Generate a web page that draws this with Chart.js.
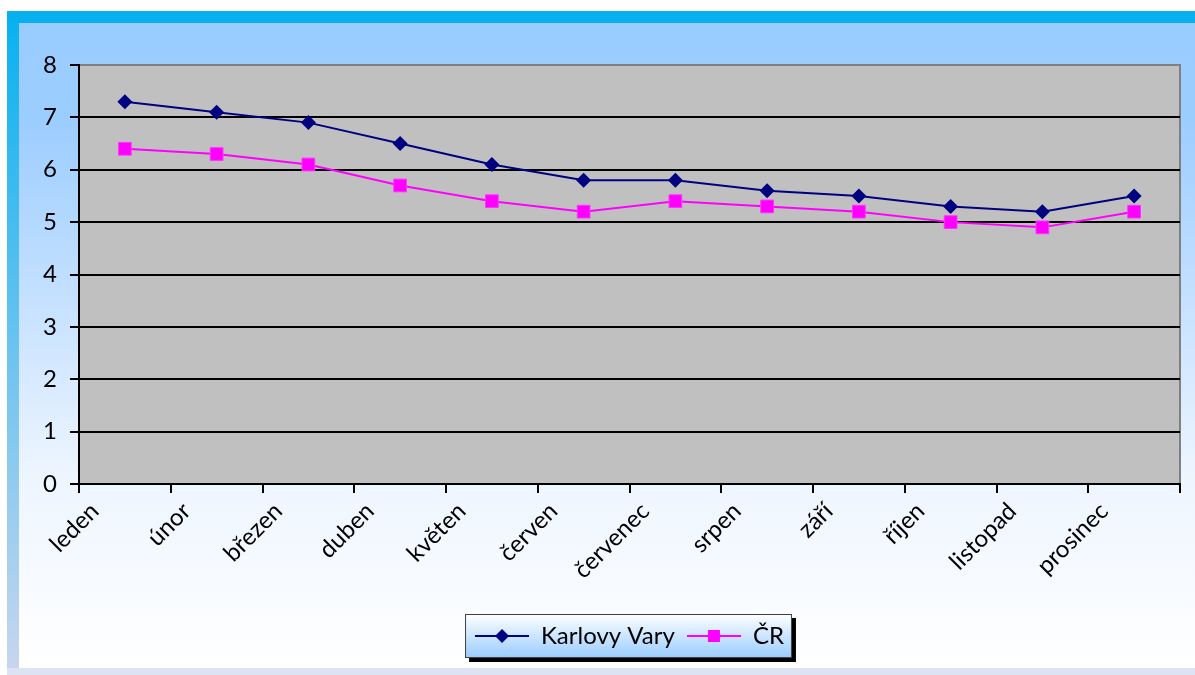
<!DOCTYPE html>
<html><head><meta charset="utf-8">
<script src="https://cdn.jsdelivr.net/npm/chart.js@4.4.0/dist/chart.umd.min.js"></script>
<style>html,body{margin:0;padding:0;background:#fff;overflow:hidden}#wrap{width:1195px;height:675px}canvas{display:block}</style>
</head><body><div id="wrap"><canvas id="c" width="1195" height="675"></canvas></div>
<script>
const categories = ['leden','únor','březen','duben','květen','červen','červenec','srpen','září','říjen','listopad','prosinec'];
const karlovyVary = [7.3,7.1,6.9,6.5,6.1,5.8,5.8,5.6,5.5,5.3,5.2,5.5];
const ceskaRepublika = [6.4,6.3,6.1,5.7,5.4,5.2,5.4,5.3,5.2,5.0,4.9,5.2];
const seriesNames = ['Karlovy Vary','ČR'];
const yMin = 0, yMax = 8, yStep = 1;

const FONT = 'Lato';

function legendIcon(color, shape){
  const c = document.createElement('canvas');
  c.width = 54; c.height = 16;
  const x = c.getContext('2d');
  x.strokeStyle = color; x.lineWidth = 2;
  x.beginPath(); x.moveTo(0,8); x.lineTo(54,8); x.stroke();
  x.fillStyle = color;
  if (shape === 'diamond'){
    x.beginPath(); x.moveTo(27,1); x.lineTo(34,8); x.lineTo(27,15); x.lineTo(20,8); x.closePath(); x.fill();
  } else {
    x.fillRect(21,2,12,12);
  }
  return c;
}
const icons = [legendIcon('#000080','diamond'), legendIcon('#FF00FF','square')];

const bgPlugin = {
  id:'bg',
  beforeDraw(chart){
    const ctx = chart.ctx, W = chart.width, H = chart.height;
    ctx.save();
    ctx.fillStyle = '#fff'; ctx.fillRect(0,0,W,H);
    let g = ctx.createLinearGradient(0,11,0,675);
    g.addColorStop(0,'#08B0F0'); g.addColorStop(1,'#C9D6EE');
    ctx.fillStyle = g; ctx.fillRect(7,11,12,664);
    ctx.fillStyle = '#08B0F0'; ctx.fillRect(7,11,W-7,12);
    g = ctx.createLinearGradient(0,23,0,668);
    g.addColorStop(0,'#99CCFF'); g.addColorStop(0.15,'#9CCDFF');
    g.addColorStop(0.45,'#C8E2FF'); g.addColorStop(0.7,'#EDF5FF'); g.addColorStop(1,'#FFFFFF');
    ctx.fillStyle = g; ctx.fillRect(19,23,W-19,645);
    ctx.fillStyle = '#DDE3F3'; ctx.fillRect(7,668,W-7,7);
    const a = chart.chartArea;
    ctx.fillStyle = '#C0C0C0'; ctx.fillRect(a.left,a.top,a.right-a.left,a.bottom-a.top);
    ctx.strokeStyle = '#808080'; ctx.lineWidth = 2;
    ctx.beginPath(); ctx.moveTo(a.left,a.top); ctx.lineTo(a.right,a.top); ctx.lineTo(a.right,a.bottom); ctx.stroke();
    const lg = chart.legend;
    if (lg && lg.legendHitBoxes && lg.legendHitBoxes.length){
      const hb = lg.legendHitBoxes;
      const l = hb[0].left - 10, r = hb[hb.length-1].left + hb[hb.length-1].width + 8;
      const t = hb[0].top - 10, b = hb[0].top + hb[0].height + 10;
      ctx.fillStyle = '#000'; ctx.fillRect(l+4,t+4,r-l,b-t);
      const lgG = ctx.createLinearGradient(0,t,0,b);
      lgG.addColorStop(0,'#FFFFFF'); lgG.addColorStop(1,'#99CCFF');
      ctx.fillStyle = lgG; ctx.fillRect(l,t,r-l,b-t);
      ctx.strokeStyle = '#404040'; ctx.lineWidth = 1;
      ctx.strokeRect(l+0.5,t+0.5,r-l-1,b-t-1);
    }
    ctx.restore();
  }
};

new Chart(document.getElementById('c'), {
  type:'line',
  data:{
    labels: categories,
    datasets:[
      {label: seriesNames[0], data: karlovyVary, borderColor:'#000080', backgroundColor:'#000080', borderWidth:2,
       pointStyle:'rectRot', pointRadius:7.5, pointHoverRadius:7.5, pointBorderWidth:0, tension:0},
      {label: seriesNames[1], data: ceskaRepublika, borderColor:'#FF00FF', backgroundColor:'#FF00FF', borderWidth:2,
       pointStyle:'rect', pointRadius:9, pointHoverRadius:9, pointBorderWidth:1, pointBorderColor:'#FF33FF', tension:0}
    ]
  },
  options:{
    responsive:false, animation:false,
    layout:{padding:{left:19, right:15, top:65, bottom:17}},
    plugins:{
      tooltip:{enabled:false},
      legend:{
        position:'bottom', fullSize:false,
        labels:{
          usePointStyle:true, pointStyleWidth:54, boxHeight:16, padding:12,
          color:'#000', font:{family:FONT, size:24},
          generateLabels(chart){
            const items = Chart.defaults.plugins.legend.labels.generateLabels(chart);
            items.forEach((it,i)=>{ it.pointStyle = icons[i]; });
            return items;
          }
        }
      }
    },
    scales:{
      x:{
        offset:true,
        grid:{offset:true, drawOnChartArea:false, tickLength:9, color:'#000', lineWidth:2},
        border:{color:'#000', width:2},
        ticks:{color:'#000', font:{family:FONT, size:24}, minRotation:45, maxRotation:45, autoSkip:false, padding:4, labelOffset:-30},
        afterFit(s){ s.height = 128; }
      },
      y:{
        min:yMin, max:yMax,
        grid:{color:(c)=> c.tick && c.tick.value===yMax ? '#808080' : '#000', lineWidth:2, tickLength:9, tickColor:'#000'},
        border:{color:'#000', width:2},
        ticks:{stepSize:yStep, color:'#000', font:{family:FONT, size:24}, padding:13},
        afterFit(s){ s.width = 60; }
      }
    }
  },
  plugins:[bgPlugin]
});
</script></body></html>
